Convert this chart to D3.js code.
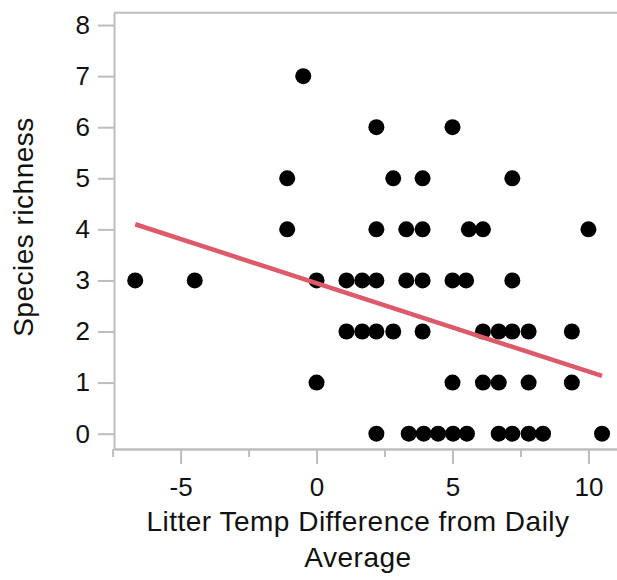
<!DOCTYPE html>
<html>
<head>
<meta charset="utf-8">
<script src="https://cdn.jsdelivr.net/npm/d3@7"></script>
<style>
  body { margin: 0; background: #fff; }
  text { font-family: "Liberation Sans", Arial, Helvetica, sans-serif; fill: #111; }
</style>
</head>
<body>
<svg id="chart" width="617" height="580"></svg>
<script>
// Litter temp difference (x) for each site, with its species richness (y)
const tempDiff = [
  -0.49,
  2.2, 5.0,
  -1.08, 2.82, 3.9, 7.2,
  -1.08, 2.2, 3.3, 3.9, 5.6, 6.12, 10.0,
  -6.67, -4.48, 0, 1.1, 1.68, 2.2, 3.3, 3.9, 5.0, 5.5, 7.2,
  1.1, 1.68, 2.2, 2.82, 3.9, 6.12, 6.7, 7.2, 7.8, 9.39,
  0, 5.0, 6.12, 6.7, 7.8, 9.39,
  2.2, 3.39, 3.94, 4.47, 5.02, 5.53, 6.7, 7.2, 7.8, 8.33, 10.5
];
const richness = [
  7,
  6, 6,
  5, 5, 5, 5,
  4, 4, 4, 4, 4, 4, 4,
  3, 3, 3, 3, 3, 3, 3, 3, 3, 3, 3,
  2, 2, 2, 2, 2, 2, 2, 2, 2, 2,
  1, 1, 1, 1, 1, 1,
  0, 0, 0, 0, 0, 0, 0, 0, 0, 0, 0
];

const fitX = [-6.67, 10.5];
const fitY = [4.10, 1.13];

const xTicks = [-5, 0, 5, 10];
const xMinorTicks = [-7.5, -2.5, 2.5, 7.5];
const yTicks = [0, 1, 2, 3, 4, 5, 6, 7, 8];

const svg = d3.select("#chart");
const plotLeft = 114, plotRight = 617, plotTop = 12.8, plotBottom = 449;
const axisColor = "#bdbdbd";

const x = d3.scaleLinear().domain([-7.45, 11.05]).range([plotLeft, plotRight]);
const y = d3.scaleLinear().domain([-0.3, 8.24]).range([plotBottom, plotTop]);

// frame: top border
svg.append("line")
  .attr("x1", plotLeft).attr("x2", plotRight)
  .attr("y1", plotTop).attr("y2", plotTop)
  .attr("stroke", axisColor).attr("stroke-width", 2);

// minor x ticks (no labels)
const xMinor = svg.append("g")
  .attr("transform", `translate(0,${plotBottom})`)
  .call(d3.axisBottom(x).tickValues(xMinorTicks).tickSize(8).tickSizeOuter(0).tickFormat(""));

const xAxis = svg.append("g")
  .attr("transform", `translate(0,${plotBottom})`)
  .call(d3.axisBottom(x).tickValues(xTicks).tickSize(15).tickSizeOuter(0).tickPadding(14)
    .tickFormat(d3.format("d")));

const yAxis = svg.append("g")
  .attr("transform", `translate(${plotLeft},0)`)
  .call(d3.axisLeft(y).tickValues(yTicks).tickSize(16).tickSizeOuter(0).tickPadding(8));

[xMinor, xAxis, yAxis].forEach(g => {
  g.select(".domain").attr("stroke", axisColor).attr("stroke-width", 2);
  g.selectAll(".tick line").attr("stroke", axisColor).attr("stroke-width", 2);
  g.selectAll(".tick text").attr("font-size", 26).attr("fill", "#111")
    .attr("font-family", '"Liberation Sans", Arial, sans-serif');
});
xAxis.selectAll(".tick text").text(d => d < 0 ? "-" + Math.abs(d) : d);

// points
const pts = tempDiff.map((d, i) => ({ x: d, y: richness[i] }));
svg.append("g")
  .selectAll("circle")
  .data(pts)
  .join("circle")
  .attr("cx", d => x(d.x))
  .attr("cy", d => y(d.y))
  .attr("r", 8)
  .attr("fill", "#000");

// regression line
svg.append("path")
  .datum(fitX.map((d, i) => [d, fitY[i]]))
  .attr("fill", "none")
  .attr("stroke", "#dd5a6b")
  .attr("stroke-width", 4.5)
  .attr("d", d3.line().x(d => x(d[0])).y(d => y(d[1])));

// axis titles
const xTitle = svg.append("text")
  .attr("text-anchor", "middle")
  .attr("font-size", 28)
  .attr("letter-spacing", 0.5);
xTitle.append("tspan").attr("x", 358).attr("y", 530.7).text("Litter Temp Difference from Daily");
xTitle.append("tspan").attr("x", 358).attr("y", 566.7).text("Average");

svg.append("text")
  .attr("transform", "translate(33.3,227) rotate(-90)")
  .attr("text-anchor", "middle")
  .attr("font-size", 28)
  .attr("letter-spacing", 0.5)
  .text("Species richness");
</script>
</body>
</html>
